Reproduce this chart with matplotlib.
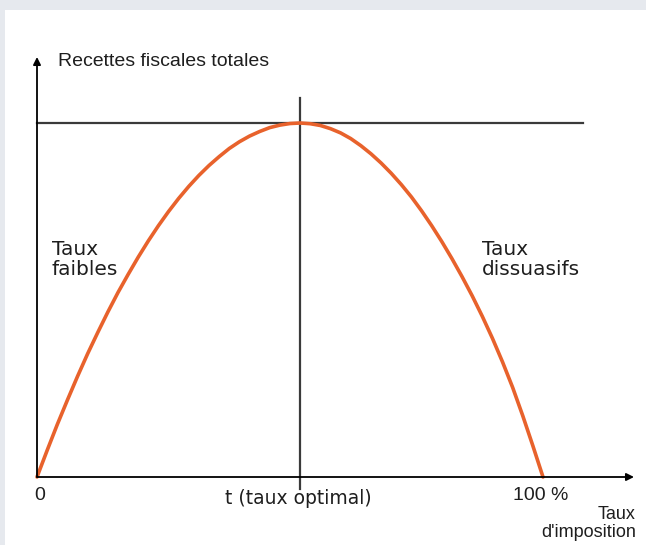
import matplotlib
matplotlib.use("Agg")
import matplotlib.pyplot as plt
from matplotlib.patches import Rectangle

# --- DATA (tax rate % vs total tax revenue, peak = 100) ---
taux = [0, 2, 4, 6, 8, 10, 12, 14, 16, 18, 20, 22, 24, 26, 28, 30, 32, 34, 36, 38, 40,
        42, 44, 46, 48, 50, 52, 54, 56, 58, 60, 62, 64, 66, 68, 70, 72, 74, 76, 78, 80,
        82, 84, 86, 88, 90, 92, 94, 96, 98, 100]
recettes = [0, 7.5, 14.8, 21.7, 28.4, 34.8, 40.8, 46.6, 52.1, 57.2, 62.1, 66.7, 71.0,
            75.0, 78.7, 82.1, 85.2, 88.0, 90.5, 92.8, 94.7, 96.3, 97.6, 98.7, 99.4, 99.85,
            100, 99.8, 99.3, 98.4, 97.2, 95.6, 93.6, 91.3, 88.7, 85.8, 82.6, 79.1, 75.2,
            71.0, 66.5, 61.7, 56.6, 51.2, 45.4, 39.2, 32.5, 25.3, 17.3, 8.8, 0]

lbl_y = "Recettes fiscales totales"
lbl_x = "Taux\nd'imposition"
lbl_left = "Taux\nfaibles"
lbl_right = "Taux\ndissuasifs"
lbl_opt = "t (taux optimal)"
tick_0 = "0"
tick_100 = "100 %"

# --- figure geometry: data (0,0) sits at pixel (37,477), (100,100) at (543,123) ---
W, H = 646, 545
X0, Y0 = 37, 477
SX, SY = (543 - 37) / 100, (477 - 123) / 100


def px(x, y):
    # pixel position (from top-left) -> data coords
    return (x - X0) / SX, (Y0 - y) / SY


fig = plt.figure(figsize=(W / 100, H / 100), dpi=100)
fig.patch.set_facecolor("#e6e9ee")

ax = fig.add_axes([0, 0, 1, 1])
ax.set_xlim(px(0, 0)[0], px(W, 0)[0])
ax.set_ylim(px(0, H)[1], px(0, 0)[1])
ax.axis("off")
ax.patch.set_alpha(0)
# white panel
ax.add_patch(Rectangle((5 / W, 0), 641 / W, 535 / H, transform=fig.transFigure,
                       facecolor="white", edgecolor="none", zorder=0))

dark = "#1e1e1e"
cond = ["Liberation Sans", "DejaVu Sans"]
wide = ["DejaVu Sans"]

# axes with arrows
arrow = dict(arrowstyle="-|>", lw=1.3, color="black", mutation_scale=11, shrinkA=0, shrinkB=0)
ax.annotate("", xy=(0, px(0, 57)[1]), xytext=(0, 0), arrowprops=arrow, zorder=4)
ax.annotate("", xy=(px(634, 0)[0], 0), xytext=(0, 0), arrowprops=arrow, zorder=4)

# optimum guide lines
peak = max(recettes)
t_opt = taux[recettes.index(peak)]
ax.plot([0, px(583, 0)[0]], [peak, peak], color="#3a3a3a", lw=1.6, zorder=2)
ax.plot([t_opt, t_opt], [px(0, 489)[1], px(0, 98)[1]], color="#3a3a3a", lw=1.6, zorder=2)

# Laffer curve
ax.plot(taux, recettes, color="#e8622c", lw=2.6, solid_capstyle="round",
        solid_joinstyle="round", zorder=3)

# texts
ax.text(*px(58, 62), lbl_y, family=cond, fontsize=14, color=dark, ha="left", va="center")
ax.text(*px(52, 240), lbl_left, family=wide, fontsize=14.5, color=dark, ha="left", va="top",
        linespacing=1.05)
ax.text(*px(482, 240), lbl_right, family=wide, fontsize=14.5, color=dark, ha="left", va="top",
        linespacing=1.05)
ax.text(*px(40, 496), tick_0, family=cond, fontsize=14, color=dark, ha="center", va="center")
ax.text(*px(298, 498), lbl_opt, family=wide, fontsize=13.5, color=dark, ha="center", va="center")
ax.text(*px(541, 496), tick_100, family=cond, fontsize=14, color=dark, ha="center", va="center")
ax.text(*px(636, 506), lbl_x, family=cond, fontsize=13, color=dark, ha="right", va="top",
        linespacing=1.05, multialignment="right")

fig.savefig("out.png", dpi=100, facecolor=fig.get_facecolor())
